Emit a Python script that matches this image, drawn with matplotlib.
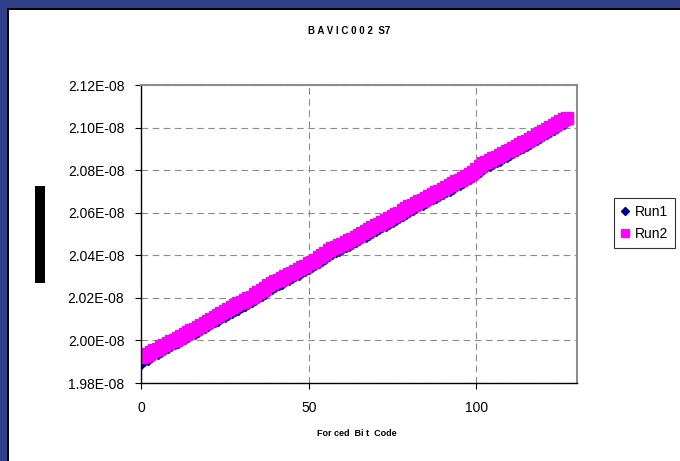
import numpy as np
import matplotlib.pyplot as plt
from matplotlib.patches import Rectangle
from matplotlib.ticker import FormatStrFormatter

plt.rcParams['font.family'] = ['Liberation Sans', 'DejaVu Sans']

# forced bit codes 0..127
codes = list(range(128))

# delay values, in picoseconds
run1_ps = [
    19895, 19906, 19915, 19925, 19934, 19942, 19951, 19960, 19968, 19978,
    19986, 19994, 20002, 20010, 20020, 20028, 20036, 20046, 20054, 20064,
    20072, 20080, 20090, 20098, 20108, 20116, 20126, 20134, 20142, 20150,
    20160, 20166, 20176, 20186, 20196, 20204, 20214, 20224, 20236, 20246,
    20256, 20264, 20272, 20282, 20290, 20298, 20306, 20314, 20324, 20332,
    20340, 20350, 20358, 20368, 20378, 20388, 20400, 20410, 20418, 20426,
    20434, 20442, 20450, 20458, 20466, 20476, 20484, 20492, 20502, 20510,
    20520, 20528, 20536, 20544, 20554, 20562, 20572, 20580, 20590, 20600,
    20610, 20618, 20626, 20634, 20642, 20650, 20660, 20668, 20676, 20684,
    20692, 20700, 20708, 20718, 20728, 20736, 20744, 20752, 20762, 20772,
    20782, 20796, 20810, 20818, 20826, 20834, 20842, 20850, 20860, 20868,
    20876, 20884, 20894, 20902, 20910, 20918, 20928, 20938, 20946, 20954,
    20964, 20974, 20982, 20992, 21002, 21012, 21022, 21034,
]
run2_ps = [
    19920, 19927, 19936, 19944, 19953, 19961, 19972, 19980, 19987, 19996,
    20004, 20012, 20020, 20030, 20040, 20048, 20056, 20064, 20073, 20082,
    20092, 20100, 20108, 20118, 20127, 20138, 20146, 20156, 20165, 20174,
    20182, 20190, 20198, 20206, 20216, 20226, 20236, 20244, 20260, 20268,
    20278, 20286, 20294, 20302, 20310, 20318, 20326, 20334, 20344, 20352,
    20362, 20370, 20380, 20390, 20400, 20412, 20424, 20432, 20440, 20446,
    20454, 20462, 20470, 20478, 20488, 20496, 20504, 20512, 20522, 20532,
    20540, 20548, 20556, 20566, 20576, 20584, 20592, 20600, 20612, 20622,
    20630, 20638, 20646, 20654, 20662, 20670, 20680, 20688, 20696, 20704,
    20712, 20720, 20728, 20738, 20748, 20756, 20764, 20774, 20784, 20792,
    20804, 20820, 20832, 20840, 20848, 20856, 20864, 20872, 20880, 20888,
    20896, 20904, 20914, 20922, 20930, 20938, 20948, 20958, 20966, 20974,
    20986, 20994, 21002, 21012, 21022, 21030, 21038, 21046,
]

yticks = [1.98e-8, 2.00e-8, 2.02e-8, 2.04e-8, 2.06e-8, 2.08e-8, 2.10e-8, 2.12e-8]
xticks = [0, 50, 100]

run1 = np.array(run1_ps) * 1e-12
run2 = np.array(run2_ps) * 1e-12

fig = plt.figure(figsize=(6.8, 4.61), dpi=100)
fig.patch.set_facecolor('#2f3e87')

# white chart area with dark edge, like the excel chart frame
W, H = 680, 461
fig.patches.append(Rectangle((7 / W, 0), 1, (H - 8) / H, transform=fig.transFigure,
                             facecolor='black', edgecolor='none', zorder=-3))
fig.patches.append(Rectangle((9 / W, 0), 1, (H - 10) / H, transform=fig.transFigure,
                             facecolor='white', edgecolor='none', zorder=-2))
# y axis title box (rendered as a black bar in the original)
fig.patches.append(Rectangle((35 / W, (H - 283) / H), 10 / W, 97 / H,
                             transform=fig.transFigure, facecolor='black',
                             edgecolor='none', zorder=-1))

ax = fig.add_axes([141 / W, (H - 383) / H, (577 - 141) / W, (383 - 85) / H])
ax.plot(codes, run1, linestyle='none', marker='D', markersize=6,
        color='#000080', label='Run1')
ax.plot(codes, run2, linestyle='none', marker='s', markersize=8,
        color='#ff00ff', label='Run2')

ax.set_xlim(0, 130)
ax.set_ylim(1.98e-8, 2.12e-8)
ax.set_xticks(xticks)
ax.set_yticks(yticks)
ax.yaxis.set_major_formatter(FormatStrFormatter('%.2E'))
ax.tick_params(direction='out', length=4, width=0.8, labelsize=10, colors='black')
ax.tick_params(axis='y', pad=8)
ax.tick_params(axis='x', pad=9)

ax.grid(True, color='#8c8c8c', linestyle=(0, (6, 4)), linewidth=0.8)
ax.set_axisbelow(True)
for side in ['top', 'right']:
    ax.spines[side].set_color('#8c8c8c')
    ax.spines[side].set_linewidth(1.5)
for side in ['left', 'bottom']:
    ax.spines[side].set_color('black')
    ax.spines[side].set_linewidth(1.0)

fig.text(349 / W, 1 - 31 / H, 'B A V I C 0 0 2  S7', ha='center', va='center',
         fontsize=7, fontweight='bold')
fig.text(357 / W, 1 - 433 / H, 'For ced  Bi t  Code', ha='center', va='center',
         fontsize=6.5, fontweight='bold')

leg = ax.legend(loc='upper left', bbox_to_anchor=(614 / W, 1 - 198 / H),
                bbox_transform=fig.transFigure, frameon=True, fancybox=False,
                fontsize=10, handlelength=0.6, handletextpad=0.4,
                borderpad=0.5, labelspacing=0.6, borderaxespad=0,
                markerscale=0.7)
leg.get_frame().set_edgecolor('black')
leg.get_frame().set_linewidth(0.8)

fig.savefig('out.png', dpi=100, facecolor=fig.get_facecolor())
